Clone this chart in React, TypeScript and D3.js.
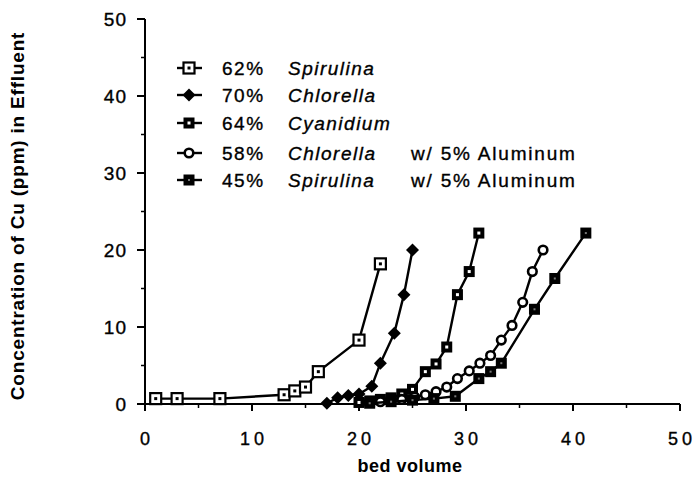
import React from "react";
import * as d3 from "d3";

type Pt = [number, number];

// bed volume vs effluent Cu concentration (ppm)
const spirulina62: Pt[] = [
  [1, 0.7], [3, 0.7], [7, 0.7], [13, 1.2], [14, 1.7], [15, 2.2], [16.2, 4.2], [20, 8.3], [22, 18.2],
];
const chlorella70: Pt[] = [
  [17, 0.1], [18, 0.8], [19, 1.1], [20, 1.3], [21.2, 2.3], [22, 5.3], [23.3, 9.2], [24.2, 14.2], [25, 20],
];
const cyanidium64: Pt[] = [
  [20, 0.2], [21, 0.4], [22, 0.6], [23, 0.8], [24, 1.3], [25, 1.9], [26.2, 4.2], [27.2, 5.2], [28.2, 7.4],
  [29.2, 14.2], [30.3, 17.2], [31.2, 22.2],
];
const chlorellaAl58: Pt[] = [
  [21, 0.2], [22, 0.3], [23, 0.5], [24, 0.6], [25.2, 0.9], [26.2, 1.2], [27.2, 1.6], [28.2, 2.2], [29.2, 3.3],
  [30.3, 4.3], [31.3, 5.3], [32.3, 6.3], [33.3, 8.3], [34.3, 10.2], [35.3, 13.2], [36.2, 17.2], [37.2, 20],
];
const spirulinaAl45: Pt[] = [
  [21, 0.1], [23, 0.3], [25, 0.5], [27, 0.7], [29, 1], [31.2, 3.3], [32.3, 4.2], [33.3, 5.3], [36.4, 12.3],
  [38.3, 16.3], [41.2, 22.2],
];

const seriesPercents = ["62%", "70%", "64%", "58%", "45%"];
const seriesNames = ["Spirulina", "Chlorella", "Cyanidium", "Chlorella", "Spirulina"];
const seriesNotes = ["", "", "", "w/ 5% Aluminum", "w/ 5% Aluminum"];
const seriesMarkers = ["openSquare", "diamond", "dotSquare", "openCircle", "solidSquare"];
const seriesData = [spirulina62, chlorella70, cyanidium64, chlorellaAl58, spirulinaAl45];

const xTicks = [0, 10, 20, 30, 40, 50];
const yTicks = [0, 10, 20, 30, 40, 50];
const xMinor = [5, 15, 25, 35, 45];
const yMinor = [5, 15, 25, 35, 45];

const W = 696;
const H = 478;
const FONT = "'Liberation Sans', Arial, Helvetica, sans-serif";

function Marker({ kind, x, y }: { kind: string; x: number; y: number }) {
  const s = 11;
  if (kind === "openSquare") {
    return (
      <g>
        <rect x={x - s / 2} y={y - s / 2} width={s} height={s} fill="#fff" stroke="#000" strokeWidth={2.2} />
        <rect x={x - 1.5} y={y - 1.5} width={3} height={3} fill="#000" />
      </g>
    );
  }
  if (kind === "diamond") {
    const r = 6.5;
    return <path d={`M${x},${y - r}L${x + r},${y}L${x},${y + r}L${x - r},${y}Z`} fill="#000" />;
  }
  if (kind === "dotSquare") {
    return (
      <g>
        <rect x={x - s / 2} y={y - s / 2} width={s} height={s} fill="#000" />
        <rect x={x - 1.5} y={y - 1.5} width={3} height={3} fill="#fff" />
      </g>
    );
  }
  if (kind === "openCircle") {
    return <circle cx={x} cy={y} r={4.3} fill="#fff" stroke="#000" strokeWidth={2.6} />;
  }
  return (
    <g>
      <rect x={x - s / 2} y={y - s / 2} width={s} height={s} fill="#000" />
      <rect x={x - 1} y={y - 1} width={2} height={2} fill="#777" />
    </g>
  );
}

export default function App() {
  const x = d3.scaleLinear().domain([0, 50]).range([145, 680]);
  const y = d3.scaleLinear().domain([0, 50]).range([404, 19]);
  const line = d3
    .line<Pt>()
    .x((d) => x(d[0]))
    .y((d) => y(d[1]));

  const legendX = 189;
  const legendRows = [68, 95, 123, 153, 180];
  const ink = { stroke: "#000", strokeWidth: 0.35 };

  return (
    <svg width={W} height={H} style={{ position: "absolute", left: 0, top: 0, background: "#fff" }} fontFamily={FONT}>
      <rect width={W} height={H} fill="#fff" />

      {/* axes */}
      <line x1={x(0)} x2={x(0)} y1={y(50)} y2={y(0)} stroke="#000" strokeWidth={2} />
      <line x1={x(0)} x2={x(50)} y1={y(0)} y2={y(0)} stroke="#000" strokeWidth={2} />
      {xTicks.map((t) => (
        <g key={`xt${t}`}>
          <line x1={x(t)} x2={x(t)} y1={y(0)} y2={y(0) + 7} stroke="#000" strokeWidth={2} />
          <text x={x(t)} y={445} textAnchor="middle" fontSize={18} letterSpacing={4} dx={2} {...ink}>
            {t}
          </text>
        </g>
      ))}
      {xMinor.map((t) => (
        <line key={`xm${t}`} x1={x(t)} x2={x(t)} y1={y(0)} y2={y(0) + 4} stroke="#000" strokeWidth={1.5} />
      ))}
      {yTicks.map((t) => (
        <g key={`yt${t}`}>
          <line x1={x(0) - 8} x2={x(0)} y1={y(t)} y2={y(t)} stroke="#000" strokeWidth={2} />
          <text x={127} y={y(t) + 7} textAnchor="end" fontSize={19} letterSpacing={1} {...ink}>
            {t}
          </text>
        </g>
      ))}
      {yMinor.map((t) => (
        <line key={`ym${t}`} x1={x(0) - 4} x2={x(0)} y1={y(t)} y2={y(t)} stroke="#000" strokeWidth={1.5} />
      ))}

      <text x={410} y={472} textAnchor="middle" fontSize={18} fontWeight="bold" letterSpacing={0.5}>
        bed volume
      </text>
      <text
        transform="translate(24,216) rotate(-90)"
        textAnchor="middle"
        fontSize={19}
        fontWeight="bold"
        letterSpacing={0.8}
      >
        Concentration  of Cu (ppm) in Effluent
      </text>

      {/* series */}
      {seriesData.map((data, i) => (
        <g key={`s${i}`}>
          <path d={line(data) ?? ""} fill="none" stroke="#000" strokeWidth={2.4} />
          {data.map((d, j) => (
            <Marker key={j} kind={seriesMarkers[i]} x={x(d[0])} y={y(d[1])} />
          ))}
        </g>
      ))}

      {/* legend */}
      {seriesPercents.map((p, i) => (
        <g key={`lg${i}`}>
          <line x1={legendX - 12} x2={legendX + 13} y1={legendRows[i]} y2={legendRows[i]} stroke="#000" strokeWidth={2.4} />
          <Marker kind={seriesMarkers[i]} x={legendX} y={legendRows[i]} />
          <text x={222} y={legendRows[i] + 6.5} fontSize={19} letterSpacing={1.5} {...ink}>
            {p}
          </text>
          <text x={288} y={legendRows[i] + 6.5} fontSize={19} fontStyle="italic" letterSpacing={1.5} {...ink}>
            {seriesNames[i]}
          </text>
          {seriesNotes[i] && (
            <text x={411} y={legendRows[i] + 6.5} fontSize={19} letterSpacing={1.8} {...ink}>
              {seriesNotes[i]}
            </text>
          )}
        </g>
      ))}
    </svg>
  );
}
